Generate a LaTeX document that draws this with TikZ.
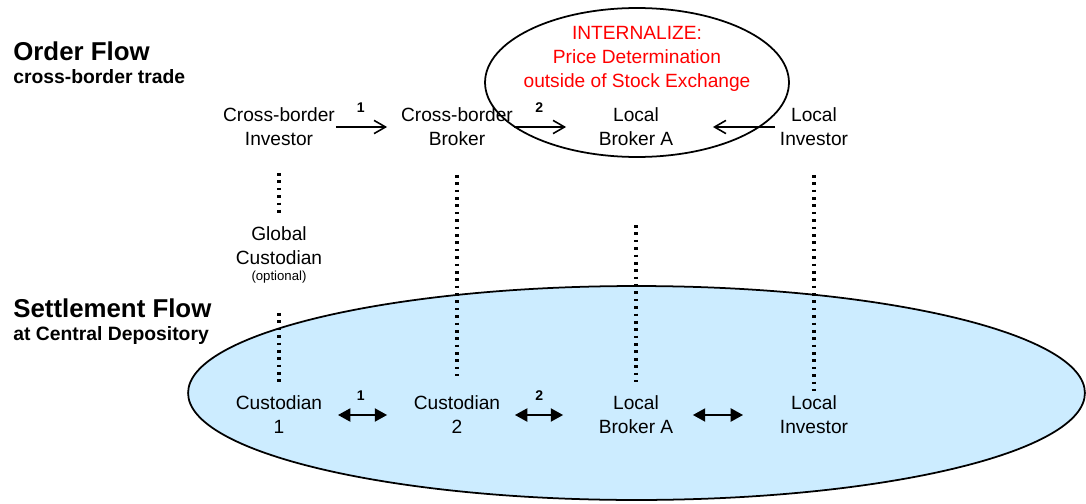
\documentclass[tikz,border=0pt]{standalone}
\usepackage{fontspec}
\setmainfont{Liberation Sans}
\usetikzlibrary{arrows.meta}
\definecolor{depot}{RGB}{204,236,255}
\definecolor{intred}{RGB}{255,0,0}

\begin{document}
\begin{tikzpicture}[x=0.02cm,y=-0.02cm,
  party/.style={align=center,inner sep=0pt,font=\fontsize{10.9}{13.6}\selectfont},
  head/.style={anchor=base west,inner sep=0pt,font=\fontsize{14.7}{17}\selectfont\bfseries},
  subhead/.style={anchor=base west,inner sep=0pt,font=\fontsize{11}{13}\selectfont\bfseries},
  num/.style={pos=0.46,above=8pt,inner sep=0pt,font=\fontsize{8}{9}\selectfont\bfseries},
  order/.style={-{Straight Barb[length=6.5pt,width=7.5pt]},line width=0.9pt},
  settle/.style={{Triangle[length=7pt,width=7.5pt]}-{Triangle[length=7pt,width=7.5pt]},line width=0.9pt},
  link/.style={line width=1.8pt,dash pattern=on 1.5pt off 2.7pt}]
  \useasboundingbox (0,0) rectangle (1086,504);

  \draw[line width=1pt,fill=depot] (636.5,393) ellipse [x radius=8.97cm,y radius=2.14cm];
  \draw[line width=1pt] (637,82.5) ellipse [x radius=3.04cm,y radius=1.49cm];

  \node[head] (ordhd) at (13,60) {Order Flow};
  \node[subhead] (ordsub) at (13,83) {cross-border trade};
  \node[head] (sethd) at (13,317) {Settlement Flow};
  \node[subhead] (setsub) at (13,340) {at Central Depository};

  \node[party,text=intred] (intl) at (637,59) {INTERNALIZE:\\Price Determination\\outside of Stock Exchange};

  \node[party] (cbi) at (279,127) {Cross-border\\Investor};
  \node[party] (cbb) at (457,127) {Cross-border\\Broker};
  \node[party] (lba) at (636,127) {Local\\Broker A};
  \node[party] (li) at (814,127) {Local\\Investor};
  \node[party] (gc) at (279,255) {Global\\Custodian\\[-4pt]{\fontsize{7.5}{9}\selectfont (optional)}};
  \node[party] (cu1) at (279,415) {Custodian\\1};
  \node[party] (cu2) at (457,415) {Custodian\\2};
  \node[party] (lbb) at (636,415) {Local\\Broker A};
  \node[party] (lib) at (814,415) {Local\\Investor};

  \draw[order,shorten <=32.4pt,shorten >=39.8pt] (cbi.center) -- node[num] {1} (cbb.center);
  \draw[order,shorten <=32.4pt,shorten >=39.8pt] (cbb.center) -- node[num] {2} (lba.center);
  \draw[order,shorten <=22.2pt,shorten >=43.8pt] (li.center) -- (lba.center);

  \draw[link,shorten <=26.2pt,shorten >=23.9pt] (cbi.center) -- (gc.center);
  \draw[link,shorten <=33pt,shorten >=18.8pt] (gc.center) -- (cu1.center);
  \draw[link,shorten <=27.3pt,shorten >=22.2pt] (cbb.center) -- (cu2.center);
  \draw[link,shorten <=55.8pt,shorten >=18.8pt] (lba.center) -- (lbb.center);
  \draw[link,shorten <=27.3pt,shorten >=13.7pt] (li.center) -- (lib.center);

  \draw[settle,shorten <=33.6pt,shorten >=39.8pt] (cu1.center) -- node[num] {1} (cu2.center);
  \draw[settle,shorten <=33pt,shorten >=41.5pt] (cu2.center) -- node[num] {2} (lbb.center);
  \draw[settle,shorten <=32.4pt,shorten >=40.4pt] (lbb.center) -- (lib.center);
\end{tikzpicture}
\end{document}
